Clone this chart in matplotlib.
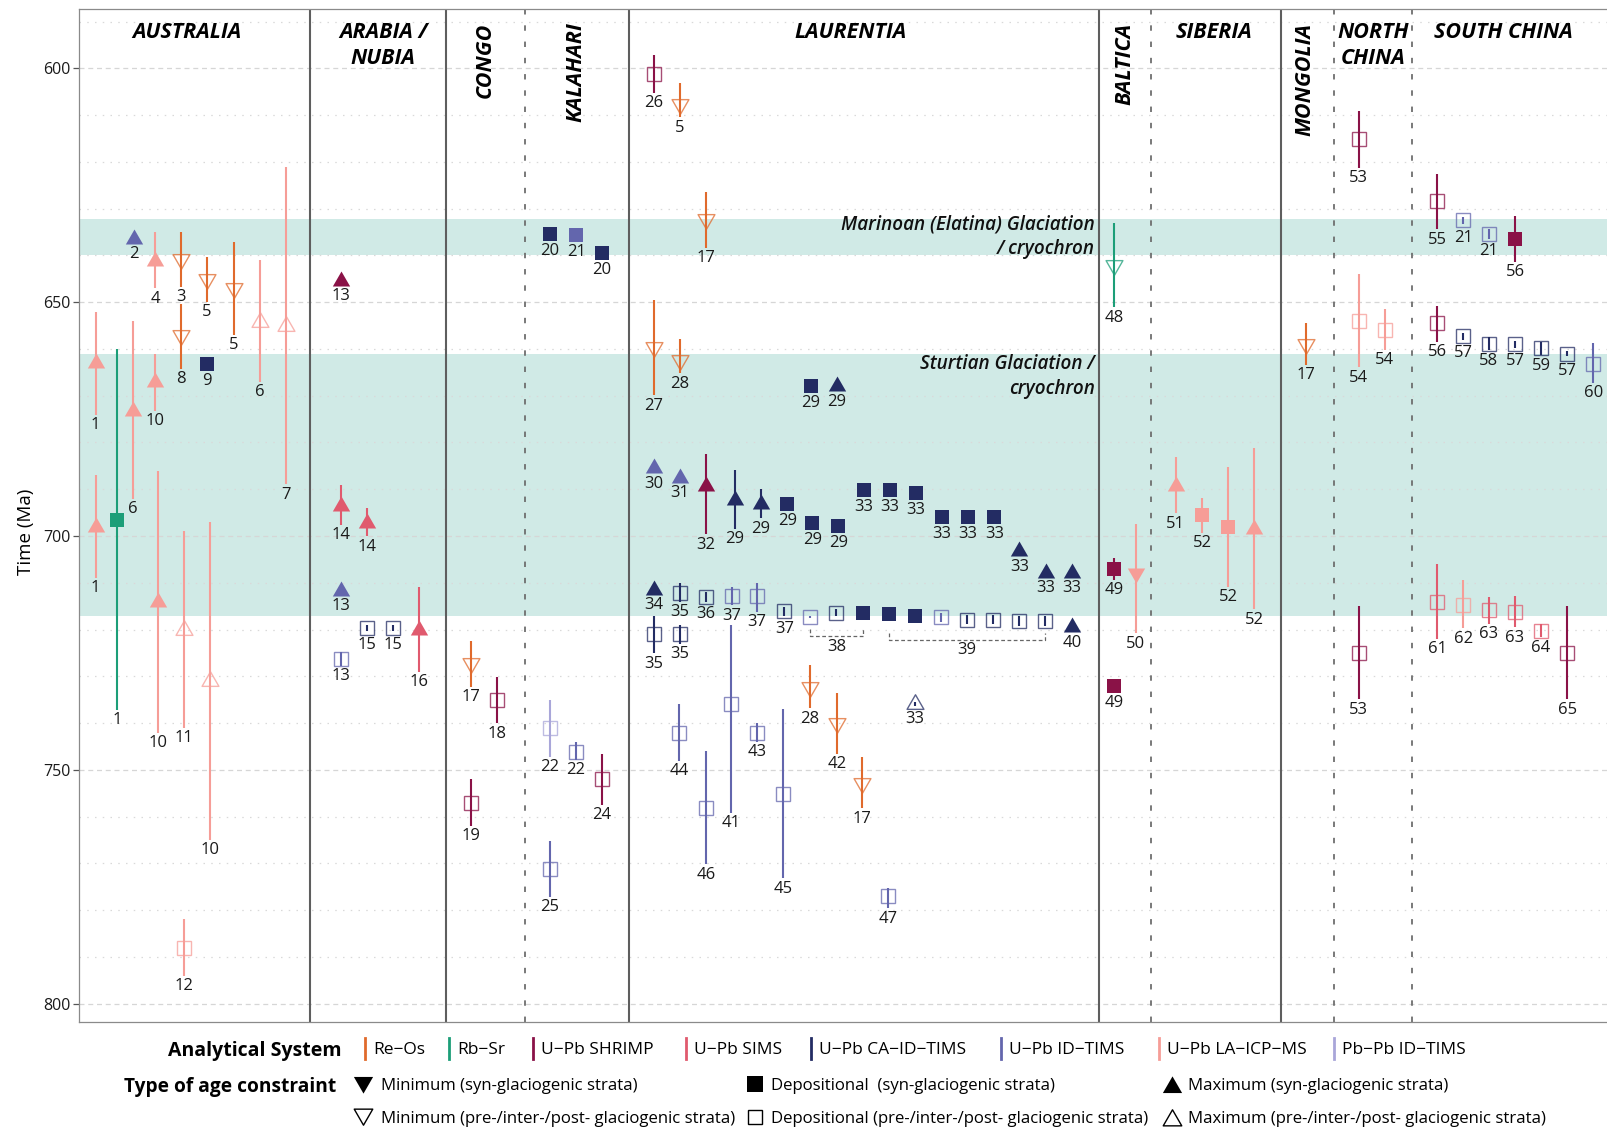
import numpy as np
import matplotlib.pyplot as plt
from matplotlib.lines import Line2D
from matplotlib.path import Path

plt.rcParams['font.family'] = ['Open Sans', 'DejaVu Sans']

nan = np.nan

# one slot per sample column, grouped by craton
slot = [
    # Australia
    0.55, 0.55, 1.36, 2.03, 1.98, 2.83, 2.83, 2.94, 3.82, 3.82, 3.94, 3.94, 4.82, 4.82, 4.94, 5.85, 6.84, 7.84,
    # Arabia / Nubia
    9.95, 9.95, 10.96, 9.95, 10.96, 11.96, 9.95, 12.96,
    # Congo
    14.96, 15.95, 14.96,
    # Kalahari
    17.99, 18.99, 19.98, 17.99, 18.99, 19.98, 17.99,
    # Laurentia
    21.98, 22.98, 23.98, 21.98, 22.98, 28.0, 29.0, 21.98, 22.98, 23.98,
    25.08, 26.08, 27.09, 28.05, 29.06, 30.04, 31.03, 32.03, 33.04, 34.02,
    35.04, 36.0, 37.02, 38.02, 38.02, 21.98, 22.98, 23.98, 24.98, 25.94,
    26.98, 27.97, 28.97, 30.0, 30.99, 31.99, 32.99, 33.99, 34.99, 36.0,
    36.99, 21.98, 22.98, 22.94, 23.98, 24.94, 25.94, 26.94, 27.97, 29.0,
    29.95, 32.0, 30.97,
    # Baltica
    39.63, 39.63, 39.63, 40.48,
    # Siberia
    42.01, 43.02, 44.02, 45.02,
    # Mongolia
    47.01,
    # North China
    49.03, 49.03, 50.02, 49.03,
    # South China
    52.04, 53.04, 54.03, 55.03, 52.04, 53.04, 54.03, 55.03, 56.03, 57.03,
    58.04, 52.04, 53.04, 54.03, 55.03, 56.03, 57.03,
]

age = [
    663.1, 698.1, 696.6, 636.5, 673.2, 641.2, 667.1, 714.2, 640.7, 657.1, 720.0, 788.1, 645.1, 663.2, 731.1, 647.0, 654.2, 655.2,
    645.4, 693.5, 697.3, 711.7, 719.7, 719.7, 726.2, 720.0,
    727.2, 735.1, 757.1,
    635.4, 635.6, 639.4, 741.1, 746.1, 752.0, 771.1,
    601.2, 607.7, 632.3, 659.5, 662.4, 667.9, 668.0, 685.5, 687.5, 689.4,
    692.3, 693.1, 693.2, 697.2, 697.8, 690.2, 690.2, 690.7, 695.9, 695.9,
    695.9, 703.3, 707.8, 707.8, 719.5, 711.5, 712.1, 713.0, 712.9, 712.9,
    716.1, 717.4, 716.4, 716.4, 716.7, 717.1, 717.4, 717.9, 717.9, 718.2,
    718.2, 721.0, 721.0, 742.1, 758.1, 736.0, 742.1, 755.1, 732.2, 739.9,
    752.7, 735.9, 777.0,
    642.0, 707.1, 732.0, 708.0,
    689.3, 695.5, 698.0, 698.6,
    659.0,
    615.1, 654.1, 656.0, 725.1,
    628.4, 632.5, 635.4, 636.4, 654.5, 657.3, 658.9, 659.0, 659.9, 661.0,
    663.2, 714.1, 714.7, 715.9, 716.2, 720.2, 725.1,
]

age_young = [
    652.2, 687.0, 660.0, nan, 654.0, 634.9, 661.1, 686.1, 634.9, 650.4, 698.9, 781.9, 640.3, nan, 697.1, 637.2, 641.0, 621.2,
    nan, 689.1, 694.1, nan, 719.0, 719.0, 724.7, 711.0,
    722.4, 730.2, 752.0,
    nan, nan, nan, 735.1, 744.1, 746.5, 765.1,
    597.2, 603.2, 626.5, 649.5, 657.9, nan, nan, nan, nan, 682.5,
    685.9, 689.9, nan, nan, nan, nan, nan, nan, nan, nan,
    nan, nan, nan, nan, nan, nan, 710.0, 712.0, 711.0, 710.1,
    715.1, 717.2, 715.6, nan, nan, nan, 716.4, 716.9, 716.9, 717.2,
    717.2, 717.1, 719.0, 735.9, 746.0, 719.0, 739.9, 737.0, 727.6, 733.6,
    747.3, 735.4, 775.3,
    633.1, 704.8, 731.6, 697.4,
    683.2, 691.9, 685.3, 681.2,
    654.4,
    609.1, 644.0, 651.5, 715.0,
    622.6, 631.8, 634.4, 631.6, 650.8, 656.6, 657.5, 658.3, 658.5, 660.4,
    658.8, 706.0, 709.4, 713.0, 712.8, 718.8, 715.0,
]

age_old = [
    674.1, 708.9, 737.2, nan, 692.1, 647.0, 673.2, 742.1, 646.7, 664.3, 741.0, 794.0, 649.9, nan, 764.9, 657.0, 667.0, 688.9,
    nan, 697.6, 700.1, nan, 720.4, 720.4, 727.7, 729.0,
    732.2, 740.0, 761.9,
    nan, nan, nan, 747.2, 747.9, 757.4, 777.1,
    605.2, 610.5, 638.4, 669.9, 665.2, nan, nan, nan, nan, 699.6,
    698.4, 696.2, nan, nan, nan, nan, nan, nan, nan, nan,
    nan, nan, nan, nan, nan, nan, 714.0, 714.0, 714.8, 716.2,
    717.1, 717.6, 717.2, nan, nan, nan, 718.4, 718.9, 718.9, 719.2,
    719.2, 725.1, 723.1, 748.1, 770.2, 759.2, 744.0, 773.2, 736.8, 746.5,
    758.2, 736.3, 779.6,
    651.1, 709.3, 732.4, 720.8,
    695.1, 699.3, 710.8, 715.7,
    663.4,
    621.3, 663.9, 660.2, 734.9,
    634.4, 633.2, 636.4, 641.4, 658.5, 658.0, 660.3, 659.7, 661.3, 661.6,
    667.3, 722.0, 719.7, 718.8, 719.5, 721.6, 734.9,
]

system = [
    'LA', 'LA', 'RbSr', 'ID', 'LA', 'LA', 'LA', 'LA', 'ReOs', 'ReOs', 'LA', 'LA', 'ReOs', 'CA', 'LA', 'ReOs', 'LA', 'LA',
    'SHRIMP', 'SIMS', 'SIMS', 'ID', 'CA', 'CA', 'ID', 'SIMS',
    'ReOs', 'SHRIMP', 'SHRIMP',
    'CA', 'ID', 'CA', 'PbPb', 'ID', 'SHRIMP', 'ID',
    'SHRIMP', 'ReOs', 'ReOs', 'ReOs', 'ReOs', 'CA', 'CA', 'ID', 'ID', 'SHRIMP',
    'CA', 'CA', 'CA', 'CA', 'CA', 'CA', 'CA', 'CA', 'CA', 'CA',
    'CA', 'CA', 'CA', 'CA', 'CA', 'CA', 'CA', 'CA', 'ID', 'ID',
    'CA', 'ID', 'CA', 'CA', 'CA', 'CA', 'ID', 'CA', 'CA', 'CA',
    'CA', 'CA', 'CA', 'ID', 'ID', 'ID', 'ID', 'ID', 'ReOs', 'ReOs',
    'ReOs', 'CA', 'ID',
    'RbSr', 'SHRIMP', 'SHRIMP', 'LA',
    'LA', 'LA', 'LA', 'LA',
    'ReOs',
    'SHRIMP', 'LA', 'LA', 'SHRIMP',
    'SHRIMP', 'ID', 'ID', 'SHRIMP', 'SHRIMP', 'CA', 'CA', 'CA', 'CA', 'CA',
    'ID', 'SIMS', 'LA', 'SIMS', 'SIMS', 'SIMS', 'SHRIMP',
]

constraint = [
    'max_syn', 'max_syn', 'dep_syn', 'max_syn', 'max_syn', 'max_syn', 'max_syn', 'max_syn', 'min_pre', 'min_pre',
    'max_pre', 'dep_pre', 'min_pre', 'dep_syn', 'max_pre', 'min_pre', 'max_pre', 'max_pre',
    'max_syn', 'max_syn', 'max_syn', 'max_syn', 'dep_pre', 'dep_pre', 'dep_pre', 'max_syn',
    'min_pre', 'dep_pre', 'dep_pre',
    'dep_syn', 'dep_syn', 'dep_syn', 'dep_pre', 'dep_pre', 'dep_pre', 'dep_pre',
    'dep_pre', 'min_pre', 'min_pre', 'min_pre', 'min_pre', 'dep_syn', 'max_syn', 'max_syn', 'max_syn', 'max_syn',
    'max_syn', 'max_syn', 'dep_syn', 'dep_syn', 'dep_syn', 'dep_syn', 'dep_syn', 'dep_syn', 'dep_syn', 'dep_syn',
    'dep_syn', 'max_syn', 'max_syn', 'max_syn', 'max_syn', 'max_syn', 'dep_pre', 'dep_pre', 'dep_pre', 'dep_pre',
    'dep_pre', 'dep_pre', 'dep_pre', 'dep_syn', 'dep_syn', 'dep_syn', 'dep_pre', 'dep_pre', 'dep_pre', 'dep_pre',
    'dep_pre', 'dep_pre', 'dep_pre', 'dep_pre', 'dep_pre', 'dep_pre', 'dep_pre', 'dep_pre', 'min_pre', 'min_pre',
    'min_pre', 'max_pre', 'dep_pre',
    'min_pre', 'dep_syn', 'dep_syn', 'min_syn',
    'max_syn', 'dep_syn', 'dep_syn', 'max_syn',
    'min_pre',
    'dep_pre', 'dep_pre', 'dep_pre', 'dep_pre',
    'dep_pre', 'dep_pre', 'dep_pre', 'dep_syn', 'dep_pre', 'dep_pre', 'dep_pre', 'dep_pre', 'dep_pre', 'dep_pre',
    'dep_pre', 'dep_pre', 'dep_pre', 'dep_pre', 'dep_pre', 'dep_pre', 'dep_pre',
]

ref_no = [
    '1', '1', '1', '2', '6', '4', '10', '10', '3', '8', '11', '12', '5', '9', '10', '5', '6', '7',
    '13', '14', '14', '13', '15', '15', '13', '16',
    '17', '18', '19',
    '20', '21', '20', '22', '22', '24', '25',
    '26', '5', '17', '27', '28', '29', '29', '30', '31', '32',
    '29', '29', '29', '29', '29', '33', '33', '33', '33', '33',
    '33', '33', '33', '33', '40', '34', '35', '36', '37', '37',
    '37', '', '', '', '', '', '', '', '', '',
    '', '35', '35', '44', '46', '41', '43', '45', '28', '42',
    '17', '33', '47',
    '48', '49', '49', '50',
    '51', '52', '52', '52',
    '17',
    '53', '54', '54', '53',
    '55', '21', '21', '56', '56', '57', '58', '57', '59', '57',
    '60', '61', '62', '63', '63', '64', '65',
]

# grouped samples sharing one reference number
bracket_ref = ['38', '39']
bracket_from = [27.97, 30.99]
bracket_to = [30.0, 36.99]

system_keys = ['ReOs', 'RbSr', 'SHRIMP', 'SIMS', 'CA', 'ID', 'LA', 'PbPb']
system_names = ['Re\u2212Os', 'Rb\u2212Sr', 'U\u2212Pb SHRIMP', 'U\u2212Pb SIMS', 'U\u2212Pb CA\u2212ID\u2212TIMS',
                'U\u2212Pb ID\u2212TIMS', 'U\u2212Pb LA\u2212ICP\u2212MS', 'Pb\u2212Pb ID\u2212TIMS']
system_colors = ['#e06a2c', '#1c9e78', '#8a1247', '#e05a6e', '#232c63', '#6366ad', '#f69d97', '#a9a6d9']
colour = dict(zip(system_keys, system_colors))

constraint_rows = [['min_syn', 'dep_syn', 'max_syn'], ['min_pre', 'dep_pre', 'max_pre']]
constraint_names = [['Minimum (syn-glaciogenic strata)', 'Depositional  (syn-glaciogenic strata)',
                     'Maximum (syn-glaciogenic strata)'],
                    ['Minimum (pre-/inter-/post- glaciogenic strata)',
                     'Depositional (pre-/inter-/post- glaciogenic strata)',
                     'Maximum (pre-/inter-/post- glaciogenic strata)']]

cratons = ['AUSTRALIA', 'ARABIA /\nNUBIA', 'CONGO', 'KALAHARI', 'LAURENTIA', 'BALTICA', 'SIBERIA',
           'MONGOLIA', 'NORTH\nCHINA', 'SOUTH CHINA']
craton_centre = [4.07, 11.58, 15.49, 18.97, 29.51, 40.07, 43.48, 46.96, 49.57, 54.57]
craton_vertical = [False, False, True, True, False, True, False, True, False, False]
solid_bounds = [8.78, 13.98, 21.02, 39.06, 46.05]
dashed_bounds = [17.03, 41.06, 48.07, 51.07]

glaciation_text = ['Marinoan (Elatina) Glaciation\n/ cryochron', 'Sturtian Glaciation /\ncryochron']
glaciation_top = [632.2, 661.1]
glaciation_base = [640.0, 717.0]

y_top, y_bottom = 587.26, 803.9

# equilateral triangles centred on their centroid
tri_up = Path([(0, 1.555), (-1.347, -0.778), (1.347, -0.778), (0, 1.555)], closed=True)
tri_down = Path([(0, -1.555), (1.347, 0.778), (-1.347, 0.778), (0, -1.555)], closed=True)
marker_of = {'min_syn': tri_down, 'min_pre': tri_down, 'dep_syn': 's', 'dep_pre': 's',
             'max_syn': tri_up, 'max_pre': tri_up}
size_of = {'min_syn': 14.4, 'min_pre': 14.0, 'dep_syn': 9.8, 'dep_pre': 9.6, 'max_syn': 14.4, 'max_pre': 14.0}
# distance (px) from the point to the lower edge of the marker
foot_of = {'min_syn': 10.0, 'min_pre': 10.0, 'dep_syn': 6.8, 'dep_pre': 6.8, 'max_syn': 5.0, 'max_pre': 5.0}

fig = plt.figure(figsize=(16.07, 11.28), dpi=100)
ax = fig.add_axes([0.04935, 0.09397, 0.95065, 0.89832])
ax.set_xlim(-0.08, 58.56)
ax.set_ylim(y_bottom, y_top)
ppm = ax.get_position().height * fig.get_figheight() * fig.dpi / (y_bottom - y_top)

for top, base in zip(glaciation_top, glaciation_base):
    ax.axhspan(top, base, color='#d0eae6', lw=0, zorder=0)

for v in range(590, 801, 10):
    if v % 50 == 0:
        ax.axhline(v, color='#d6d6d6', lw=0.9, ls=(0, (4, 3)), zorder=0.5)
    else:
        ax.axhline(v, color='#d9d9d9', lw=0.9, ls=(0, (1.2, 5)), zorder=0.5)

for b in solid_bounds:
    ax.axvline(b, color='#5e5e5e', lw=1.5, zorder=1)
for b in dashed_bounds:
    ax.axvline(b, color='#6e6e6e', lw=1.3, ls=(0, (3, 6)), zorder=1)

for x, a, yo, ol, s, k, r in zip(slot, age, age_young, age_old, system, constraint, ref_no):
    c = colour[s]
    if not np.isnan(yo):
        ax.plot([x, x], [yo, ol], color=c, lw=1.5, solid_capstyle='butt', zorder=2)
    if k.endswith('syn'):
        ax.plot([x], [a], marker=marker_of[k], ms=size_of[k], color=c, mew=0, ls='none', zorder=3)
    else:
        ax.plot([x], [a], marker=marker_of[k], ms=size_of[k], mfc='none', mec=c, mew=1.0,
                alpha=0.75, ls='none', zorder=3)
    if r:
        drop = foot_of[k]
        if not np.isnan(ol):
            drop = max(drop, (ol - a) * ppm)
        ax.annotate(r, xy=(x, a), xytext=(0, -(drop + 14.4)), textcoords='offset pixels',
                    ha='center', va='baseline', fontsize=12, color='#1a1a1a', zorder=4)

# brackets under grouped samples
for r, x0, x1 in zip(bracket_ref, bracket_from, bracket_to):
    members = [a for x, a, rr in zip(slot, age, ref_no) if rr == '' and x0 - 0.1 <= x <= x1 + 0.1]
    low = max(members) + (6.8 + 5) / ppm
    line_y = low + 7 / ppm
    ax.plot([x0, x0, x1, x1], [low, line_y, line_y, low], color='#666666', lw=0.9,
            ls=(0, (3, 2)), zorder=2)
    ax.annotate(r, xy=((x0 + x1) / 2, line_y), xytext=(0, -14.4), textcoords='offset pixels',
                ha='center', va='baseline', fontsize=12, color='#1a1a1a')

# craton names; the baseline anchor sits on the last line of a wrapped name
for name, xc, vert in zip(cratons, craton_centre, craton_vertical):
    if vert:
        ax.annotate(name, xy=(xc, 1), xycoords=('data', 'axes fraction'), xytext=(0, -14),
                    textcoords='offset pixels', rotation=90, ha='center', va='top',
                    fontsize=15.5, fontweight='bold', fontstyle='italic')
    else:
        extra = 26 * name.count('\n')
        ax.annotate(name, xy=(xc, 1), xycoords=('data', 'axes fraction'), xytext=(0, -(29.6 + extra)),
                    textcoords='offset pixels', ha='center', va='baseline', multialignment='center',
                    linespacing=1.333, fontsize=15.5, fontweight='bold', fontstyle='italic')

for txt, top, drop in zip(glaciation_text, glaciation_top, [14, 18]):
    ax.annotate(txt, xy=(38.91, top), xytext=(0, -(drop + 21.5)), textcoords='offset pixels',
                ha='right', va='baseline', multialignment='right', linespacing=1.3,
                fontsize=13.6, fontweight='semibold', fontstyle='italic', color='#111111')

ax.set_yticks([600, 650, 700, 750, 800])
ax.set_xticks([])
ax.tick_params(axis='y', length=4, width=0.9, color='#555555', pad=2.5, labelsize=11.5, labelcolor='#1a1a1a')
for side in ['left', 'top', 'bottom']:
    ax.spines[side].set_color('#8a8a8a')
    ax.spines[side].set_linewidth(0.9)
ax.spines['right'].set_visible(False)
fig.text(25.7 / 1607, 1 - 532.3 / 1128, 'Time (Ma)', rotation=90, ha='center', va='center',
         fontsize=13.5, fontweight='medium')


def fx(px):
    return px / 1607


def fy(py):
    return 1 - py / 1128


# legend: analytical systems
fig.text(fx(341), fy(1048.5), 'Analytical System', ha='right', va='center_baseline',
         fontsize=14, fontweight='bold')
key_x = [364.9, 449.0, 533.0, 685.7, 810.7, 1001.3, 1159.2, 1334.4]
for kx, name, c in zip(key_x, system_names, system_colors):
    fig.add_artist(Line2D([fx(kx), fx(kx)], [fy(1038), fy(1059)], color=c, lw=2.0))
    fig.text(fx(kx + 8), fy(1048.5), name, ha='left', va='center_baseline', fontsize=12.5)

# legend: type of age constraint
fig.text(fx(336.2), fy(1084.3), 'Type of age constraint', ha='right', va='center_baseline',
         fontsize=13.8, fontweight='bold')
mark_x = [362.8, 755.4, 1171.5]
text_x = [381.3, 770.7, 1187.9]
for row_y, keys, names in zip([1084.3, 1117.2], constraint_rows, constraint_names):
    for mx, tx, k, name in zip(mark_x, text_x, keys, names):
        m = marker_of[k]
        shift = 0
        if m is tri_up:
            shift = 2.8
        elif m is tri_down:
            shift = -2.8
        ms = 11 if m == 's' else 16
        if k.endswith('syn'):
            art = Line2D([fx(mx)], [fy(row_y + shift)], marker=m, ms=ms, color='black', mew=0, ls='none')
        else:
            art = Line2D([fx(mx)], [fy(row_y + shift)], marker=m, ms=ms - 0.6, mfc='none', mec='black',
                         mew=1.0, ls='none')
        fig.add_artist(art)
        fig.text(fx(tx), fy(row_y), name, ha='left', va='center_baseline', fontsize=12.1)

fig.savefig('out.png', dpi=100)
